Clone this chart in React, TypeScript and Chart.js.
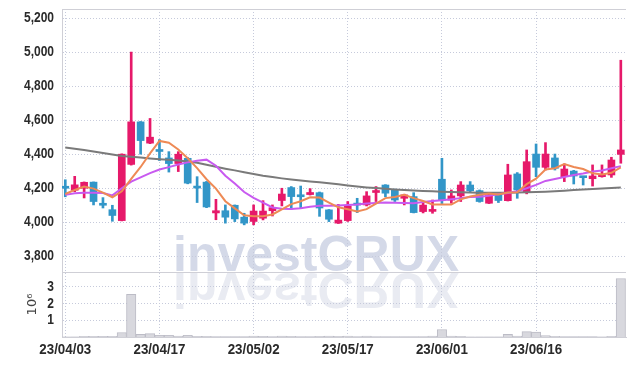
import React, { useEffect, useRef } from 'react';
import { Chart, registerables } from 'chart.js';

Chart.register(...registerables);

// ---- data ----
const tickIndex = [0, 10, 20, 30, 40, 50];
const tickLabels = ['23/04/03', '23/04/17', '23/05/02', '23/05/17', '23/06/01', '23/06/16'];
const priceTicks = [3800, 4000, 4200, 4400, 4600, 4800, 5000, 5200];
const volumeTicks = [1, 2, 3];

const opens = [4203, 4188, 4200, 4236, 4104, 4074, 4010, 4340, 4590, 4465,
  4420, 4378, 4345, 4376, 4205, 4236, 4055, 4068, 4100, 4030,
  4005, 4024, 4068, 4128, 4204, 4153, 4163, 4174, 4073, 3995,
  4010, 4104, 4102, 4175, 4219, 4190, 4141, 4151, 4063, 4064,
  4253, 4130, 4155, 4219, 4186, 4112, 4164, 4127, 4284, 4180,
  4401, 4323, 4378, 4268, 4301, 4266, 4256, 4268, 4278, 4399];
const highs = [4250, 4270, 4237, 4237, 4145, 4100, 4402, 5000, 4592, 4610,
  4486, 4415, 4415, 4380, 4268, 4240, 4135, 4102, 4102, 4053,
  4102, 4127, 4102, 4200, 4210, 4213, 4198, 4178, 4075, 4105,
  4122, 4141, 4180, 4210, 4221, 4195, 4165, 4174, 4122, 4131,
  4376, 4190, 4239, 4239, 4190, 4168, 4166, 4341, 4292, 4425,
  4460, 4468, 4401, 4343, 4305, 4270, 4337, 4337, 4382, 4952];
const lows = [4150, 4180, 4143, 4102, 4084, 4006, 4008, 4336, 4400, 4462,
  4363, 4295, 4298, 4226, 4116, 4086, 4015, 3995, 4004, 3985,
  3985, 4014, 4037, 4096, 4077, 4083, 4160, 4035, 4004, 3993,
  4005, 4057, 4096, 4122, 4150, 4122, 4102, 4055, 4055, 4053,
  4110, 4112, 4122, 4180, 4118, 4110, 4116, 4125, 4141, 4167,
  4268, 4307, 4307, 4239, 4225, 4219, 4213, 4265, 4264, 4347];
const closes = [4200, 4220, 4235, 4122, 4100, 4040, 4400, 4590, 4480, 4500,
  4416, 4345, 4400, 4230, 4201, 4090, 4068, 4030, 4020, 3995,
  4066, 4066, 4086, 4166, 4151, 4150, 4175, 4084, 4018, 4013,
  4096, 4101, 4155, 4186, 4171, 4131, 4161, 4057, 4101, 4072,
  4131, 4155, 4219, 4185, 4122, 4162, 4128, 4278, 4190, 4356,
  4323, 4401, 4317, 4313, 4272, 4262, 4272, 4282, 4366, 4425];
const ma5 = [4166, 4190, 4210, 4198, 4174, 4147, 4182, 4255, 4325, 4405,
  4478, 4467, 4428, 4376, 4318, 4253, 4198, 4124, 4082, 4041,
  4036, 4035, 4046, 4076, 4107, 4124, 4147, 4145, 4116, 4088,
  4077, 4063, 4077, 4110, 4142, 4149, 4161, 4142, 4125, 4105,
  4104, 4104, 4135, 4152, 4162, 4169, 4163, 4175, 4176, 4224,
  4256, 4310, 4318, 4342, 4325, 4313, 4288, 4281, 4291, 4322];
const ma10 = [4161, 4170, 4174, 4174, 4172, 4158, 4200, 4239, 4264, 4289,
  4310, 4324, 4340, 4352, 4362, 4368, 4332, 4274, 4228, 4178,
  4144, 4116, 4087, 4080, 4078, 4082, 4091, 4097, 4097, 4099,
  4102, 4105, 4111, 4114, 4116, 4115, 4114, 4112, 4119, 4125,
  4130, 4136, 4142, 4148, 4150, 4156, 4165, 4172, 4182, 4200,
  4220, 4243, 4254, 4266, 4278, 4287, 4298, 4304, 4318, 4330];
const ma60 = [4440, 4432, 4425, 4416, 4407, 4398, 4390, 4385, 4380, 4375,
  4371, 4367, 4363, 4357, 4350, 4338, 4326, 4315, 4305, 4294,
  4284, 4274, 4266, 4258, 4251, 4245, 4240, 4235, 4230, 4223,
  4216, 4210, 4205, 4201, 4197, 4193, 4190, 4187, 4184, 4182,
  4180, 4178, 4176, 4175, 4174, 4174, 4174, 4174, 4175, 4176,
  4178, 4180, 4183, 4186, 4190, 4192, 4195, 4198, 4201, 4204];
// volume in millions
const volumes = [0.005, 0.01, 0.04, 0.04, 0.04, 0.04, 0.27, 2.56, 0.16, 0.2,
  0.1, 0.1, 0.05, 0.1, 0.04, 0.04, 0.03, 0.03, 0.03, 0.02,
  0.05, 0.04, 0.02, 0.05, 0.04, 0.02, 0.02, 0.04, 0.05, 0.04,
  0.05, 0.03, 0.05, 0.02, 0.02, 0.02, 0.02, 0.03, 0.02, 0.05,
  0.45, 0.05, 0.04, 0.01, 0.01, 0.01, 0.01, 0.16, 0.05, 0.32,
  0.29, 0.09, 0.04, 0.03, 0.03, 0.03, 0.03, 0.01, 0.04, 3.5];

const UP = '#E6196A';
const DOWN = '#3296C8';
const GRID = '#C6CADB';
const TICK_FAMILY = '"Liberation Sans", Arial, sans-serif';

export default function App() {
  const ref = useRef<HTMLCanvasElement>(null);

  useEffect(() => {
    const canvas = ref.current;
    if (!canvas) return;
    const ctx2d = canvas.getContext('2d') as CanvasRenderingContext2D;
    // condensed rendering of the bold 15px tick labels (text stays real text)
    const origFill = ctx2d.fillText.bind(ctx2d);
    (ctx2d as any).fillText = (text: string, x: number, y: number, maxWidth?: number) => {
      if (ctx2d.font.indexOf('bold 15px') >= 0) {
        const f = text.indexOf('/') >= 0 ? 0.89 : 0.8;
        const w = ctx2d.measureText(text).width * f;
        origFill(text, x, y, maxWidth !== undefined ? Math.min(maxWidth, w) : w);
      } else if (maxWidth !== undefined) {
        origFill(text, x, y, maxWidth);
      } else {
        origFill(text, x, y);
      }
    };

    const idx = closes.map((_, i) => i);
    const colors = idx.map((i) => (closes[i] > opens[i] ? UP : DOWN));

    const watermark = {
      id: 'watermark',
      beforeDraw(chart: any) {
        const { ctx, chartArea } = chart;
        const py = chart.scales.y;
        const base = py.bottom;
        const x = chartArea.left + 111;
        ctx.save();
        ctx.font = 'bold 50px "Liberation Sans", Arial, sans-serif';
        ctx.textBaseline = 'alphabetic';
        ctx.fillStyle = '#D4D9E8';
        ctx.fillText('investCRUX', x, base - 1);
        ctx.translate(0, 2 * base);
        ctx.scale(1, -1);
        ctx.fillStyle = '#E9EBF2';
        ctx.fillText('investCRUX', x, base - 1);
        ctx.restore();
      },
    };
    const frame = {
      id: 'frame',
      beforeDatasetsDraw(chart: any) {
        const { ctx, chartArea } = chart;
        const py = chart.scales.y;
        ctx.save();
        ctx.strokeStyle = '#CFCFD6';
        ctx.lineWidth = 1;
        ctx.beginPath();
        ctx.moveTo(chartArea.left, Math.round(chartArea.top) + 0.5);
        ctx.lineTo(chartArea.right, Math.round(chartArea.top) + 0.5);
        ctx.moveTo(chartArea.left, Math.round(py.bottom) + 0.5);
        ctx.lineTo(chartArea.right, Math.round(py.bottom) + 0.5);
        ctx.stroke();
        ctx.restore();
      },
    };

    const tickFont = { family: TICK_FAMILY, size: 15, weight: 'bold' as const };
    const fitY = (s: any) => { s.width = 62; s.paddingTop = 0; s.paddingBottom = 0; };

    const chart = new Chart(canvas, {
      type: 'bar',
      data: {
        datasets: [
          {
            type: 'line', label: 'MA5', yAxisID: 'y', order: 0,
            data: idx.map((i) => ({ x: i, y: ma5[i] })),
            borderColor: '#EE8A55', borderWidth: 2, pointRadius: 0, tension: 0,
          } as any,
          {
            type: 'line', label: 'MA10', yAxisID: 'y', order: 0,
            data: idx.map((i) => ({ x: i, y: ma10[i] })),
            borderColor: '#C85AF0', borderWidth: 2, pointRadius: 0, tension: 0,
          },
          {
            type: 'line', label: 'MA60', yAxisID: 'y', order: 0,
            data: idx.map((i) => ({ x: i, y: ma60[i] })),
            borderColor: '#7A7A7A', borderWidth: 2, pointRadius: 0, tension: 0,
          },
          {
            type: 'bar', label: 'body', yAxisID: 'y', order: 1, grouped: false,
            data: idx.map((i) => ({ x: i, y: [opens[i], closes[i]] })),
            backgroundColor: colors, barThickness: 7, minBarLength: 2,
          },
          {
            type: 'bar', label: 'wick', yAxisID: 'y', order: 2, grouped: false,
            data: idx.map((i) => ({ x: i, y: [lows[i], highs[i]] })),
            backgroundColor: colors, barThickness: 2,
          },
          {
            type: 'bar', label: 'volume', yAxisID: 'yv', order: 3, grouped: false,
            data: idx.map((i) => ({ x: i, y: volumes[i] })),
            backgroundColor: '#D8D8DE', borderColor: '#BCBCC6', borderWidth: 1,
            barPercentage: 1, categoryPercentage: 1,
          },
        ] as any,
      },
      options: {
        animation: false,
        responsive: true,
        maintainAspectRatio: false,
        devicePixelRatio: 1,
        layout: { padding: { top: 9, right: 8, left: 0, bottom: 0 } },
        plugins: { legend: { display: false }, tooltip: { enabled: false } },
        scales: {
          x: {
            type: 'linear',
            offset: false,
            min: -0.35,
            max: 59.55,
            afterBuildTicks: (s: any) => { s.ticks = tickIndex.map((v) => ({ value: v })); },
            afterFit: (s: any) => { s.height = 29; s.paddingLeft = 0; s.paddingRight = 0; },
            ticks: {
              autoSkip: false, maxRotation: 0, padding: 4, color: '#2A2A2A', font: tickFont,
              callback: (v: any) => { const k = tickIndex.indexOf(Number(v)); return k >= 0 ? tickLabels[k] : ''; },
            },
            grid: { color: GRID, drawTicks: false, lineWidth: 1, offset: false },
            border: { display: true, color: '#CFCFD6', dash: [1, 2] },
          },
          yv: {
            type: 'linear', position: 'left', stack: 'panes', stackWeight: 65,
            min: 0, max: 3.89,
            afterBuildTicks: (s: any) => { s.ticks = volumeTicks.map((v) => ({ value: v })); },
            afterFit: fitY,
            ticks: { autoSkip: false, padding: 8, color: '#2A2A2A', font: tickFont },
            grid: { color: GRID, drawTicks: false },
            border: { display: true, color: '#CFCFD6', dash: [1, 2] },
            title: {
              display: true, text: '10⁶', color: '#444',
              font: { family: '"DejaVu Sans", sans-serif', size: 13 },
              padding: { top: 25, bottom: 0 },
            },
          },
          y: {
            type: 'linear', position: 'left', stack: 'panes', stackWeight: 263,
            min: 3708, max: 5253,
            afterBuildTicks: (s: any) => { s.ticks = priceTicks.map((v) => ({ value: v })); },
            afterFit: fitY,
            ticks: {
              autoSkip: false, padding: 8, color: '#2A2A2A', font: tickFont,
              callback: (v: any) => Number(v).toLocaleString('en-US'),
            },
            grid: { color: GRID, drawTicks: false },
            border: { display: true, color: '#CFCFD6', dash: [1, 2] },
          },
        },
      } as any,
      plugins: [watermark, frame],
    });
    return () => chart.destroy();
  }, []);

  return (
    <div style={{ position: 'fixed', left: 0, top: 0, width: 634, height: 366, background: '#fff' }}>
      <canvas ref={ref} />
    </div>
  );
}
